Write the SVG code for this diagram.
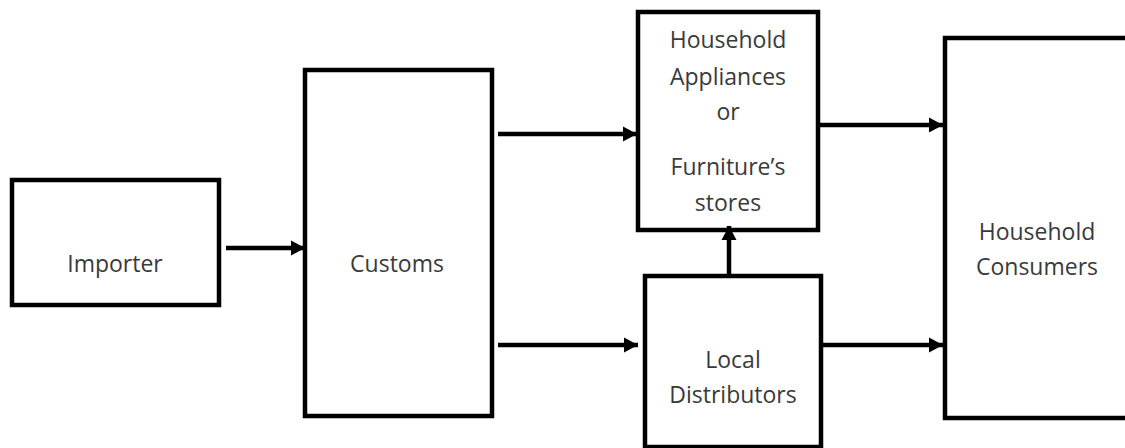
<svg xmlns="http://www.w3.org/2000/svg" width="1125" height="448" viewBox="0 0 1125 448">
<style>
.box{fill:#fff;stroke:#000;stroke-width:4.5}
.lbl{font-family:"Open Sans",sans-serif;font-size:23px;fill:#3a3a3a;text-anchor:middle}
.con{stroke:#000;stroke-width:4.5;fill:none}
</style>
<defs>
<marker id="ah" markerUnits="userSpaceOnUse" markerWidth="16" markerHeight="16" refX="14" refY="8" orient="auto">
<path d="M0,0.5 L14,8 L0,15.5 Z" fill="#000"/>
</marker>
</defs>
<rect width="1125" height="448" fill="#fff"/>
<g id="importer">
<rect class="box" x="12" y="180" width="207" height="125"/>
<text class="lbl" x="115" y="272">Importer</text>
</g>
<g id="customs">
<rect class="box" x="305" y="70" width="187" height="346"/>
<text class="lbl" x="397" y="272">Customs</text>
</g>
<g id="stores">
<rect class="box" x="638" y="12" width="180" height="218"/>
<text class="lbl" x="728" y="48">Household</text>
<text class="lbl" x="728" y="85">Appliances</text>
<text class="lbl" x="728" y="120">or</text>
<text class="lbl" x="728" y="175">Furniture’s</text>
<text class="lbl" x="728" y="211">stores</text>
</g>
<g id="distributors">
<rect class="box" x="645" y="276" width="176" height="171"/>
<text class="lbl" x="733" y="368">Local</text>
<text class="lbl" x="733" y="403">Distributors</text>
</g>
<g id="consumers">
<rect class="box" x="945" y="38" width="200" height="380"/>
<text class="lbl" x="1037" y="240">Household</text>
<text class="lbl" x="1037" y="275">Consumers</text>
</g>
<g id="connectors">
<line class="con" x1="226" y1="248" x2="305" y2="248" marker-end="url(#ah)"/>
<line class="con" x1="498" y1="134" x2="637" y2="134" marker-end="url(#ah)"/>
<line class="con" x1="818" y1="125" x2="943" y2="125" marker-end="url(#ah)"/>
<line class="con" x1="498" y1="345" x2="638" y2="345" marker-end="url(#ah)"/>
<line class="con" x1="821" y1="345" x2="943" y2="345" marker-end="url(#ah)"/>
<line class="con" x1="729" y1="278" x2="729" y2="226" marker-end="url(#ah)"/>
</g>
</svg>
